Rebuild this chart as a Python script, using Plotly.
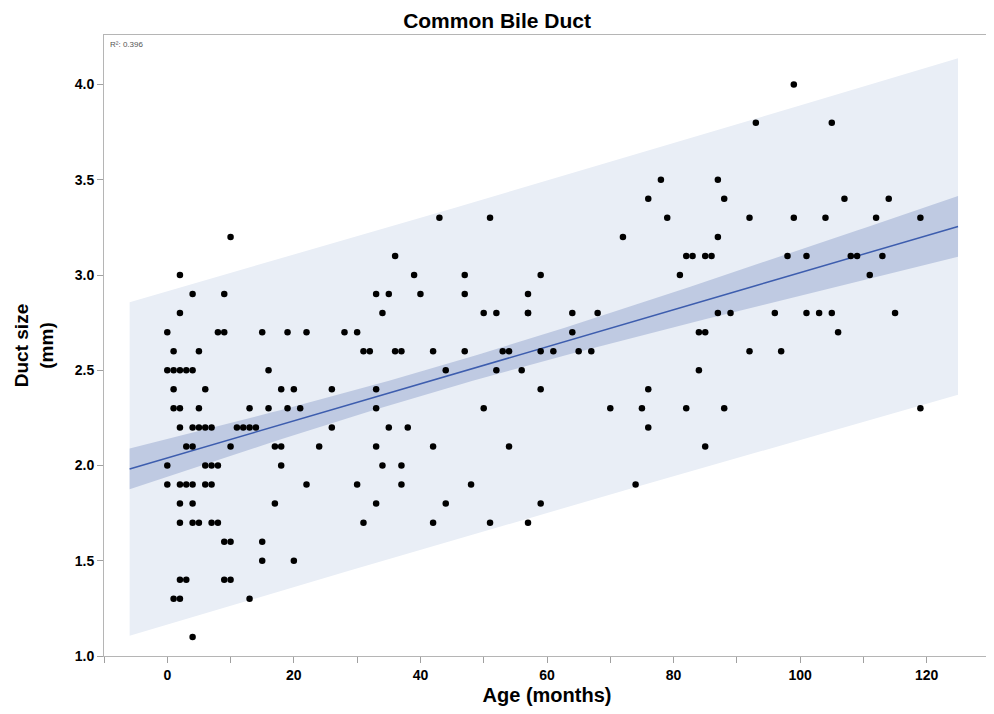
import numpy as np
import plotly.graph_objects as go

# Age (months) and duct size (mm)
age = [0,0,0,0,
       1,1,1,1,1,
       2,2,2,2,2,2,2,2,2,2,
       3,3,3,3,
       4,4,4,4,4,4,4,4,
       5,5,5,5,
       6,6,6,6,
       7,7,7,7,
       8,8,8,
       9,9,9,9,
       10,10,10,10,
       11,12,13,13,13,14,
       15,15,15,16,16,17,17,18,18,18,19,19,20,20,21,22,22,24,26,26,28,30,30,31,31,32,
       33,33,33,33,33,34,34,35,35,36,36,37,37,37,38,39,40,42,42,42,43,44,44,
       47,47,47,48,50,50,51,51,52,52,53,54,54,56,57,57,57,57,59,59,59,59,
       61,64,64,65,67,68,70,72,74,75,76,76,76,78,79,81,82,82,83,84,84,85,85,85,86,
       87,87,87,88,88,89,92,92,93,96,97,98,99,99,101,101,103,104,105,105,106,107,
       108,109,111,112,113,114,115,119,119]
duct = [2.7,2.5,2.0,1.9,
        2.6,2.5,2.4,2.3,1.3,
        3.0,2.8,2.5,2.3,2.2,1.9,1.8,1.7,1.4,1.3,
        2.5,2.1,1.9,1.4,
        2.9,2.5,2.2,2.1,1.9,1.8,1.7,1.1,
        2.6,2.3,2.2,1.7,
        2.4,2.2,2.0,1.9,
        2.2,2.0,1.9,1.7,
        2.7,2.0,1.7,
        2.9,2.7,1.6,1.4,
        3.2,2.1,1.6,1.4,
        2.2,2.2,2.3,2.2,1.3,2.2,
        2.7,1.6,1.5,2.5,2.3,2.1,1.8,2.4,2.1,2.0,2.7,2.3,2.4,1.5,2.3,2.7,1.9,2.1,2.4,2.2,2.7,2.7,1.9,2.6,1.7,2.6,
        2.9,2.4,2.3,2.1,1.8,2.8,2.0,2.9,2.2,3.1,2.6,2.6,2.0,1.9,2.2,3.0,2.9,2.6,2.1,1.7,3.3,2.5,1.8,
        3.0,2.9,2.6,1.9,2.8,2.3,3.3,1.7,2.8,2.5,2.6,2.6,2.1,2.5,2.9,2.8,2.8,1.7,3.0,2.6,2.4,1.8,
        2.6,2.8,2.7,2.6,2.6,2.8,2.3,3.2,1.9,2.3,3.4,2.4,2.2,3.5,3.3,3.0,3.1,2.3,3.1,2.7,2.5,3.1,2.7,2.1,3.1,
        3.5,3.2,2.8,3.4,2.3,2.8,3.3,2.6,3.8,2.8,2.6,3.1,4.0,3.3,3.1,2.8,2.8,3.3,3.8,2.8,2.7,3.4,
        3.1,3.1,3.0,3.3,3.1,3.4,2.8,3.3,2.3]

x = np.array(age, float)
y = np.array(duct, float)
n = len(x)
b1, b0 = np.polyfit(x, y, 1)
resid = y - (b0 + b1 * x)
s = np.sqrt(np.sum(resid ** 2) / (n - 2))
xm = x.mean()
sxx = np.sum((x - xm) ** 2)
t = 1.972
span = x.max() - x.min()
xf = np.linspace(x.min() - 0.05 * span, x.max() + 0.05 * span, 100)
yf = b0 + b1 * xf
se_m = s * np.sqrt(1 / n + (xf - xm) ** 2 / sxx)
se_p = s * np.sqrt(1 + 1 / n + (xf - xm) ** 2 / sxx)

fig = go.Figure()
fig.add_trace(go.Scatter(x=np.concatenate([xf, xf[::-1]]),
                         y=np.concatenate([yf + t * se_p, (yf - t * se_p)[::-1]]),
                         fill="toself", fillcolor="#e9eef6", line=dict(width=0),
                         mode="lines", hoverinfo="skip", showlegend=False))
fig.add_trace(go.Scatter(x=np.concatenate([xf, xf[::-1]]),
                         y=np.concatenate([yf + t * se_m, (yf - t * se_m)[::-1]]),
                         fill="toself", fillcolor="#bfcae2", line=dict(width=0),
                         mode="lines", hoverinfo="skip", showlegend=False))
fig.add_trace(go.Scatter(x=xf, y=yf, mode="lines",
                         line=dict(color="#3d5dae", width=1.5), showlegend=False))
fig.add_trace(go.Scatter(x=age, y=duct, mode="markers",
                         marker=dict(color="black", size=6.5), showlegend=False))

FONT = "Liberation Sans, Arial, sans-serif"
tickfont = dict(family=FONT, size=14, color="black", weight="bold")
fig.update_layout(
    width=986, height=706,
    margin=dict(l=96, r=4, t=27, b=58),
    paper_bgcolor="white", plot_bgcolor="white",
    title=dict(text="<b>Common Bile Duct</b>", x=0.496, xref="container", xanchor="center",
               y=0.993, yref="container", yanchor="top",
               font=dict(family=FONT, size=21, color="black")),
    annotations=[dict(text="R²: 0.396", x=0.004, y=0.995, xref="paper", yref="paper",
                      xanchor="left", yanchor="top", showarrow=False,
                      font=dict(family=FONT, size=8, color="#555555"))],
)
fig.update_xaxes(range=[-10, 130], tickvals=[0, 20, 40, 60, 80, 100, 120],
                 ticks="outside", ticklen=6, tickcolor="#a0a0a0",
                 minor=dict(dtick=10, tick0=0, ticks="outside", ticklen=6, tickcolor="#a0a0a0"),
                 showline=True, linecolor="#b5b5b5", mirror=True, showgrid=False, zeroline=False,
                 tickfont=tickfont,
                 title=dict(text="<b>Age (months)</b>", standoff=6,
                            font=dict(family=FONT, size=20, color="black")))
fig.update_yaxes(range=[1.0, 4.26], tickvals=[1.0, 1.5, 2.0, 2.5, 3.0, 3.5, 4.0], tickformat=".1f",
                 ticks="outside", ticklen=6, tickcolor="#a0a0a0",
                 showline=True, linecolor="#b5b5b5", mirror=True, showgrid=False, zeroline=False,
                 tickfont=tickfont,
                 title=dict(text="<b>Duct size<br>(mm)</b>", standoff=16,
                            font=dict(family=FONT, size=19, color="black")))
fig.write_html("out.html")
